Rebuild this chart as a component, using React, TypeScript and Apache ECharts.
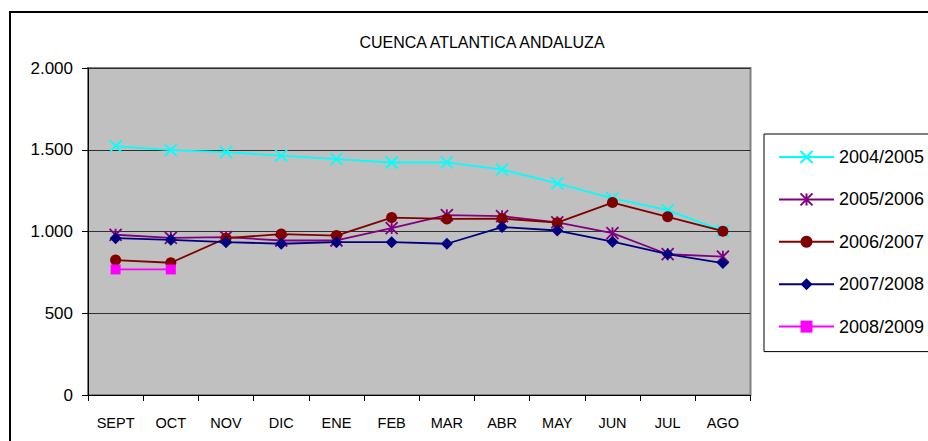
import React, { useEffect, useRef } from "react";
import * as echarts from "echarts";

const title = "CUENCA ATLANTICA ANDALUZA";
const months = ["SEPT", "OCT", "NOV", "DIC", "ENE", "FEB", "MAR", "ABR", "MAY", "JUN", "JUL", "AGO"];
const seriesNames = ["2004/2005", "2005/2006", "2006/2007", "2007/2008", "2008/2009"];
const s2004 = [1522, 1498, 1486, 1464, 1443, 1422, 1423, 1379, 1294, 1202, 1131, 1004];
const s2005 = [980, 961, 966, 945, 945, 1021, 1100, 1094, 1056, 990, 861, 846];
const s2006 = [825, 809, 959, 984, 975, 1085, 1077, 1079, 1054, 1177, 1090, 1002];
const s2007 = [959, 949, 935, 925, 935, 935, 925, 1027, 1006, 938, 861, 807];
const s2008 = [768, 768, null, null, null, null, null, null, null, null, null, null];
const yTicks = { min: 0, max: 2000, interval: 500 };

const colors = ["#00FFFF", "#800080", "#800000", "#000080", "#FF00FF"];
const symbols = [
  "path://M0,0 L10,10 M10,0 L0,10",
  "path://M0,0 L10,10 M10,0 L0,10 M5,0 L5,10",
  "circle",
  "diamond",
  "rect",
];
const symbolSizes = [12, 12, 11, 12, 10];

function fmt(v: number): string {
  const s = String(Math.round(v));
  return s.replace(/\B(?=(\d{3})+(?!\d))/g, ".");
}

export default function App() {
  const ref = useRef<HTMLDivElement>(null);
  useEffect(() => {
    if (!ref.current) return;
    const chart = echarts.init(ref.current, null, { renderer: "svg" });
    const allData = [s2004, s2005, s2006, s2007, s2008];
    const font = "'Liberation Sans', Arial, sans-serif";
    chart.setOption({
      animation: false,
      backgroundColor: "#FFFFFF",
      title: {
        text: title,
        left: 477,
        textAlign: "center",
        top: 29,
        textStyle: { fontFamily: font, fontSize: 16, fontWeight: "normal", color: "#000" },
      },
      grid: {
        left: 88,
        right: 177.5,
        top: 68,
        bottom: 46,
        show: true,
        backgroundColor: "#C0C0C0",
        borderColor: "#808080",
        borderWidth: 2,
      },
      legend: {
        data: seriesNames,
        orient: "vertical",
        left: 764,
        top: 134,
        padding: [14, 40, 16, 14],
        itemWidth: 55,
        itemHeight: 15,
        itemGap: 24.4,
        borderColor: "#000",
        borderWidth: 1,
        backgroundColor: "#FFFFFF",
        textStyle: { fontFamily: font, fontSize: 18, color: "#000", lineHeight: 15 },
      },
      xAxis: {
        type: "category",
        data: months,
        boundaryGap: true,
        axisLine: { show: true, lineStyle: { color: "#000", width: 1 } },
        axisTick: { show: true, length: 6, alignWithLabel: false, lineStyle: { color: "#000" } },
        axisLabel: { fontFamily: font, fontSize: 14.5, color: "#000", margin: 20, interval: 0 },
        splitLine: { show: false },
      },
      yAxis: {
        type: "value",
        min: yTicks.min,
        max: yTicks.max,
        interval: yTicks.interval,
        axisLine: { show: true, lineStyle: { color: "#000", width: 1 } },
        axisTick: { show: true, length: 6, lineStyle: { color: "#000" } },
        axisLabel: { fontFamily: font, fontSize: 17, color: "#000", margin: 15, formatter: (v: number) => fmt(v) },
        splitLine: { show: true, lineStyle: { color: "#303030", width: 1 } },
      },
      graphic: [
        {
          type: "rect",
          shape: { x: 10, y: 12, width: 1000, height: 600 },
          style: { fill: "none", stroke: "#000", lineWidth: 2 },
          z: -10,
          silent: true,
        },
      ],
      series: allData.map((d, i) => ({
        name: seriesNames[i],
        type: "line",
        data: d,
        symbol: symbols[i],
        symbolSize: symbolSizes[i],
        showAllSymbol: true,
        connectNulls: false,
        lineStyle: { color: colors[i], width: 1.8 },
        itemStyle: {
          color: colors[i],
          borderColor: colors[i],
          borderWidth: i < 2 ? 1.8 : 0,
        },
        z: 2 + i,
      })),
    });
    return () => chart.dispose();
  }, []);
  return (
    <div
      ref={ref}
      style={{ position: "absolute", left: 0, top: 0, width: 928, height: 441 }}
    />
  );
}
